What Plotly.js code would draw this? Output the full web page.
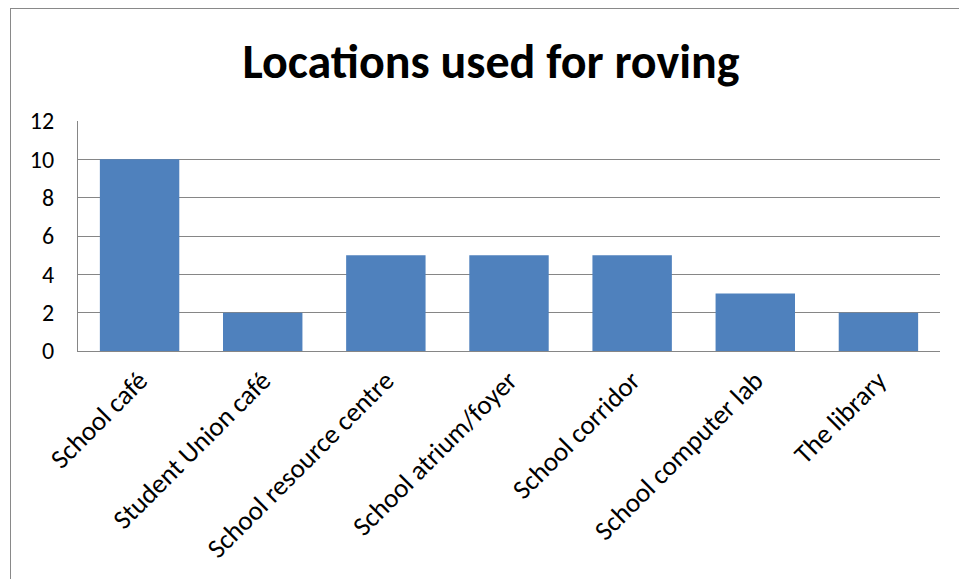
<!DOCTYPE html>
<html>
<head>
<meta charset="utf-8">
<script src="https://cdn.plot.ly/plotly-3.0.1.min.js"></script>
<style>
  html, body { margin: 0; padding: 0; background: #ffffff; }
  #wrap { position: relative; width: 959px; height: 579px; overflow: hidden; }
  #chart { position: absolute; left: 0; top: 0; width: 959px; height: 579px; }
  #frame { position: absolute; left: 10px; top: 8px; width: 1000px; height: 1000px;
           border: 1px solid #898989; pointer-events: none; box-sizing: border-box; }
</style>
</head>
<body>
<div id="wrap">
  <div id="chart"></div>
  <div id="frame"></div>
</div>
<script>
const categories = [
  "School café",
  "Student Union café",
  "School resource centre",
  "School atrium/foyer",
  "School corridor",
  "School computer lab",
  "The library"
];
const values = [10, 2, 5, 5, 5, 3, 2];
const yTicks = [0, 2, 4, 6, 8, 10, 12];
const chartTitle = "Locations used for roving";

const FONT = "Carlito, Calibri, Lato, 'Noto Sans', sans-serif";

const trace = {
  type: "bar",
  x: categories,
  y: values,
  marker: { color: "#4F81BD", line: { width: 0 } },
  hoverinfo: "x+y"
};

const layout = {
  width: 959,
  height: 579,
  margin: { l: 78, r: 19, t: 121, b: 228, pad: 0 },
  paper_bgcolor: "#ffffff",
  plot_bgcolor: "#ffffff",
  bargap: 0.355,
  showlegend: false,
  title: {
    text: "<b>" + chartTitle + "</b>",
    font: { family: FONT, size: 48, color: "#000000" },
    x: 0.512, xref: "container", xanchor: "center",
    y: 1 - 61 / 579, yref: "container", yanchor: "middle"
  },
  font: { family: FONT, color: "#000000" },
  xaxis: {
    type: "category",
    tickangle: -45,
    tickfont: { family: FONT, size: 27, color: "#000000" },
    showgrid: false,
    showline: true,
    linecolor: "#868686",
    linewidth: 1,
    ticks: "",
    ticklabelstandoff: 2,
    automargin: false
  },
  yaxis: {
    range: [0, 12],
    tickvals: yTicks,
    ticktext: yTicks.map(String),
    tickfont: { family: FONT, size: 24, color: "#000000" },
    showgrid: true,
    gridcolor: "#868686",
    gridwidth: 1,
    showline: true,
    linecolor: "#868686",
    linewidth: 1,
    zeroline: false,
    ticks: "",
    ticklabelstandoff: 18,
    automargin: false
  }
};

Plotly.newPlot("chart", [trace], layout, { displayModeBar: false, staticPlot: true });
</script>
</body>
</html>
